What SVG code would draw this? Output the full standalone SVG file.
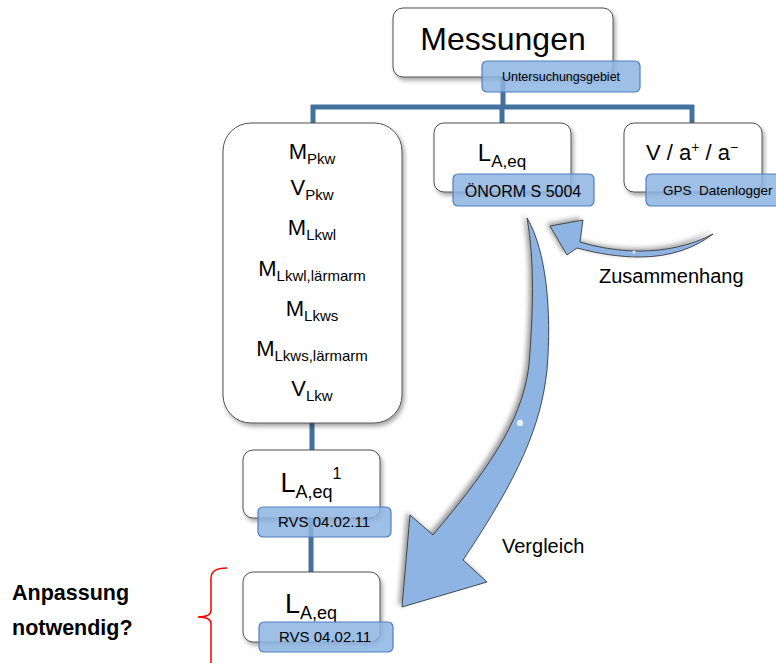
<svg xmlns="http://www.w3.org/2000/svg" width="776" height="663" viewBox="0 0 776 663">
<defs>
<style>
.box{fill:#fff;stroke:#505050;stroke-width:1;filter:url(#sh)}
.lbl{fill:#8db4e2;fill-opacity:0.85;stroke:#4f7fbf;stroke-width:1.2}
.con{stroke:#41719c;stroke-width:5;fill:none}
text{font-family:"Liberation Sans",Arial,sans-serif;fill:#000}
.big{font-size:22px}
.sub{font-size:15px}
.arr{fill:#8db4e2;stroke:#2a2a2a;stroke-width:0.8;filter:url(#ash)}
</style>
<filter id="sh" x="-20%" y="-20%" width="140%" height="140%">
<feDropShadow dx="2" dy="3" stdDeviation="2" flood-color="#000" flood-opacity="0.35"/>
</filter>
<filter id="ash" x="-30%" y="-30%" width="160%" height="160%">
<feDropShadow dx="-3" dy="-2" stdDeviation="2.5" flood-color="#000" flood-opacity="0.4"/>
</filter>
</defs>
<rect width="776" height="663" fill="#fff"/>

<g id="connectors">
<line class="con" x1="503" y1="77" x2="503" y2="107"/>
<line class="con" x1="311" y1="107" x2="694" y2="107"/>
<line class="con" x1="313" y1="105" x2="313" y2="123"/>
<line class="con" x1="502" y1="105" x2="502" y2="123"/>
<line class="con" x1="692" y1="105" x2="692" y2="123"/>
<line class="con" x1="312" y1="423" x2="312" y2="450"/>
<line class="con" x1="311" y1="518" x2="311" y2="572"/>
</g>

<g id="messungen">
<rect class="box" x="393" y="8" width="220" height="69" rx="10"/>
<text x="503" y="50" font-size="32" text-anchor="middle">Messungen</text>
<rect class="lbl" x="482" y="61" width="158" height="31" rx="5"/>
<text x="561" y="81" font-size="12.5" text-anchor="middle">Untersuchungsgebiet</text>
</g>

<g id="kenngroessen">
<rect class="box" x="223" y="123" width="179" height="300" rx="28"/>
<text class="big" x="312" y="159" text-anchor="middle">M<tspan class="sub" dy="5">Pkw</tspan></text>
<text class="big" x="312" y="195" text-anchor="middle">V<tspan class="sub" dy="5">Pkw</tspan></text>
<text class="big" x="312" y="235" text-anchor="middle">M<tspan class="sub" dy="5">Lkwl</tspan></text>
<text class="big" x="312" y="276" text-anchor="middle">M<tspan class="sub" dy="5">Lkwl,lärmarm</tspan></text>
<text class="big" x="312" y="316" text-anchor="middle">M<tspan class="sub" dy="5">Lkws</tspan></text>
<text class="big" x="312" y="356" text-anchor="middle">M<tspan class="sub" dy="5">Lkws,lärmarm</tspan></text>
<text class="big" x="312" y="396" text-anchor="middle">V<tspan class="sub" dy="5">Lkw</tspan></text>
</g>

<g id="laeq-oenorm">
<rect class="box" x="434" y="123" width="137" height="69" rx="10"/>
<text x="502" y="161" font-size="24" text-anchor="middle">L<tspan font-size="17" dy="6">A,eq</tspan></text>
<rect class="lbl" x="453" y="174" width="141" height="32" rx="5"/>
<text x="523" y="197" font-size="16" text-anchor="middle">ÖNORM S 5004</text>
</g>

<g id="gps">
<rect class="box" x="624" y="123" width="138" height="69" rx="10"/>
<text x="692" y="160" font-size="22" text-anchor="middle">V / a<tspan font-size="14" dy="-8">+</tspan><tspan dy="8"> / a</tspan><tspan font-size="14" dy="-8">−</tspan></text>
<rect class="lbl" x="646" y="174" width="140" height="32" rx="5"/>
<text x="663" y="195" font-size="13.5" xml:space="preserve">GPS  Datenlogger</text>
</g>

<g id="laeq-rvs1">
<rect class="box" x="243" y="450" width="137" height="68" rx="10"/>
<text x="311" y="492" font-size="27" text-anchor="middle">L<tspan font-size="18" dy="6">A,eq</tspan><tspan font-size="16" dy="-19">1</tspan></text>
<rect class="lbl" x="258" y="507" width="133" height="30" rx="5"/>
<text x="324" y="527" font-size="15" text-anchor="middle">RVS 04.02.11</text>
</g>

<g id="laeq-rvs2">
<rect class="box" x="243" y="572" width="137" height="70" rx="10"/>
<text x="311" y="613" font-size="27" text-anchor="middle">L<tspan font-size="18" dy="6">A,eq</tspan></text>
<rect class="lbl" x="259" y="622" width="134" height="30" rx="5"/>
<text x="325" y="642" font-size="15" text-anchor="middle">RVS 04.02.11</text>
</g>

<g id="vergleich-arrow">
<path class="arr" d="M527,218 C546,250 552,310 547,370 C541,425 520,475 463,560 L487,582 L402,607 L410,515 L433,535 C483,475 522,425 529,365 C533,315 535,260 527,218 Z"/>
<circle cx="520" cy="423" r="3.2" fill="#e8eef7"/>
<text x="502" y="553" font-size="20">Vergleich</text>
</g>

<g id="zusammenhang-arrow">
<path class="arr" d="M713,234 C690,246 665,251 640,251 C620,251 600,248 580,242 L583,220 L550,226 L567,255 L577,248 C600,254 620,257 640,257 C670,257 695,248 713,234 Z"/>
<circle cx="634" cy="252" r="1.5" fill="#e8eef7"/>
<text x="599" y="283" font-size="20">Zusammenhang</text>
</g>

<g id="anpassung">
<text x="12" y="600" font-size="21.5" font-weight="bold">Anpassung</text>
<text x="12" y="635" font-size="21.5" font-weight="bold">notwendig?</text>
<path d="M227,568 Q211,568 211,578 L211,610 Q211,617 198,617 Q211,617 211,624 L211,663" fill="none" stroke="#ff0000" stroke-width="1.5"/>
</g>
</svg>
